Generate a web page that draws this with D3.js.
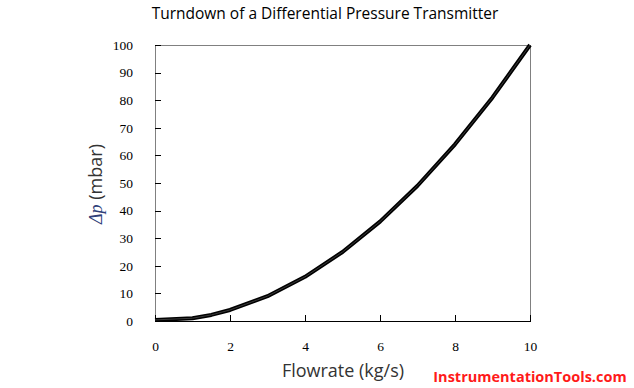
<!DOCTYPE html>
<html>
<head>
<meta charset="utf-8">
<script src="https://cdn.jsdelivr.net/npm/d3@7"></script>
<style>
  body { margin: 0; background: #fff; }
  svg { display: block; }
</style>
</head>
<body>
<svg id="chart" width="634" height="388"></svg>
<script>
// values
let flow = [0, 1, 1.5, 2, 3, 4, 5, 6, 7, 8, 9, 10]
let dp = [0.4, 1.0, 2.2, 4, 9, 16, 25, 36, 49, 64, 81, 100]
let xTicks = [0, 2, 4, 6, 8, 10]
let yTicks = [0, 10, 20, 30, 40, 50, 60, 70, 80, 90, 100]

let svg = d3.select("#chart")
let plotLeft = 155, plotRight = 530, plotTop = 45, plotBottom = 321

let x = d3.scaleLinear().domain([0, 10]).range([plotLeft, plotRight])
let y = d3.scaleLinear().domain([0, 100]).range([plotBottom, plotTop])

// frame: top and right in gray
svg.append("line").attr("x1", plotLeft).attr("x2", plotRight).attr("y1", plotTop).attr("y2", plotTop)
	.attr("stroke", "#808080").attr("stroke-width", 1).attr("shape-rendering", "crispEdges")
svg.append("line").attr("x1", plotRight).attr("x2", plotRight).attr("y1", plotTop).attr("y2", plotBottom)
	.attr("stroke", "#808080").attr("stroke-width", 1).attr("shape-rendering", "crispEdges")

let yAxis = svg.append("g").attr("transform", "translate(" + plotLeft + ",0)")
	.call(d3.axisLeft(y).tickValues(yTicks).tickSizeInner(-6).tickSizeOuter(0).tickPadding(30))
yAxis.select(".domain").attr("stroke", "#808080")
yAxis.selectAll(".tick line").attr("stroke", "#000")
yAxis.selectAll("text").attr("font-family", "'Times New Roman', 'Liberation Serif', serif")
	.attr("font-size", 13.5).attr("fill", "#000").attr("dx", 8)

let xAxis = svg.append("g").attr("transform", "translate(0," + plotBottom + ")")
	.call(d3.axisBottom(x).tickValues(xTicks).tickSizeInner(-6).tickSizeOuter(0).tickPadding(20))
xAxis.select(".domain").attr("stroke", "#000")
xAxis.selectAll(".tick line").attr("stroke", "#000")
xAxis.selectAll("text").attr("font-family", "'Times New Roman', 'Liberation Serif', serif")
	.attr("font-size", 13.5).attr("fill", "#000")
svg.selectAll(".tick line").attr("shape-rendering", "crispEdges")
svg.selectAll(".domain").attr("shape-rendering", "crispEdges")

let line = d3.line().x(d => x(d[0])).y(d => y(d[1]))
let pts = flow.map((f, i) => [f, dp[i]])
svg.append("path").datum(pts).attr("d", line)
	.attr("fill", "none").attr("stroke", "#000").attr("stroke-width", 4).attr("stroke-linejoin", "round")
svg.append("path").datum(pts).attr("d", line)
	.attr("fill", "none").attr("stroke", "#3a3a3a").attr("stroke-width", 1).attr("stroke-linejoin", "round")

// title
svg.append("text").attr("x", 325).attr("y", 19).attr("text-anchor", "middle")
	.attr("font-family", "'Comic Sans MS', 'Open Sans', sans-serif").attr("font-size", 15.5)
	.attr("fill", "#000").text("Turndown of a Differential Pressure Transmitter")

// axis titles
svg.append("text").attr("x", 343).attr("y", 377).attr("text-anchor", "middle")
	.attr("font-family", "'Segoe UI', 'Open Sans', sans-serif").attr("font-size", 18)
	.attr("fill", "#333").text("Flowrate (kg/s)")

let yl = svg.append("text").attr("transform", "translate(102,184) rotate(-90)")
	.attr("text-anchor", "middle").attr("font-size", 18)
	.attr("font-family", "'Segoe UI', 'Open Sans', sans-serif").attr("fill", "#333")
yl.append("tspan").attr("font-family", "'Times New Roman', 'Liberation Serif', serif")
	.attr("font-style", "italic").attr("fill", "#2f3f7a").text("Δp")
yl.append("tspan").text(" (mbar)")

// watermark
svg.append("text").attr("x", 530).attr("y", 382).attr("text-anchor", "middle")
	.attr("font-family", "'Comic Sans MS', 'Open Sans', sans-serif").attr("font-size", 14.5)
	.attr("font-weight", "bold").attr("fill", "#ff1a1a").text("InstrumentationTools.com")
</script>
</body>
</html>
